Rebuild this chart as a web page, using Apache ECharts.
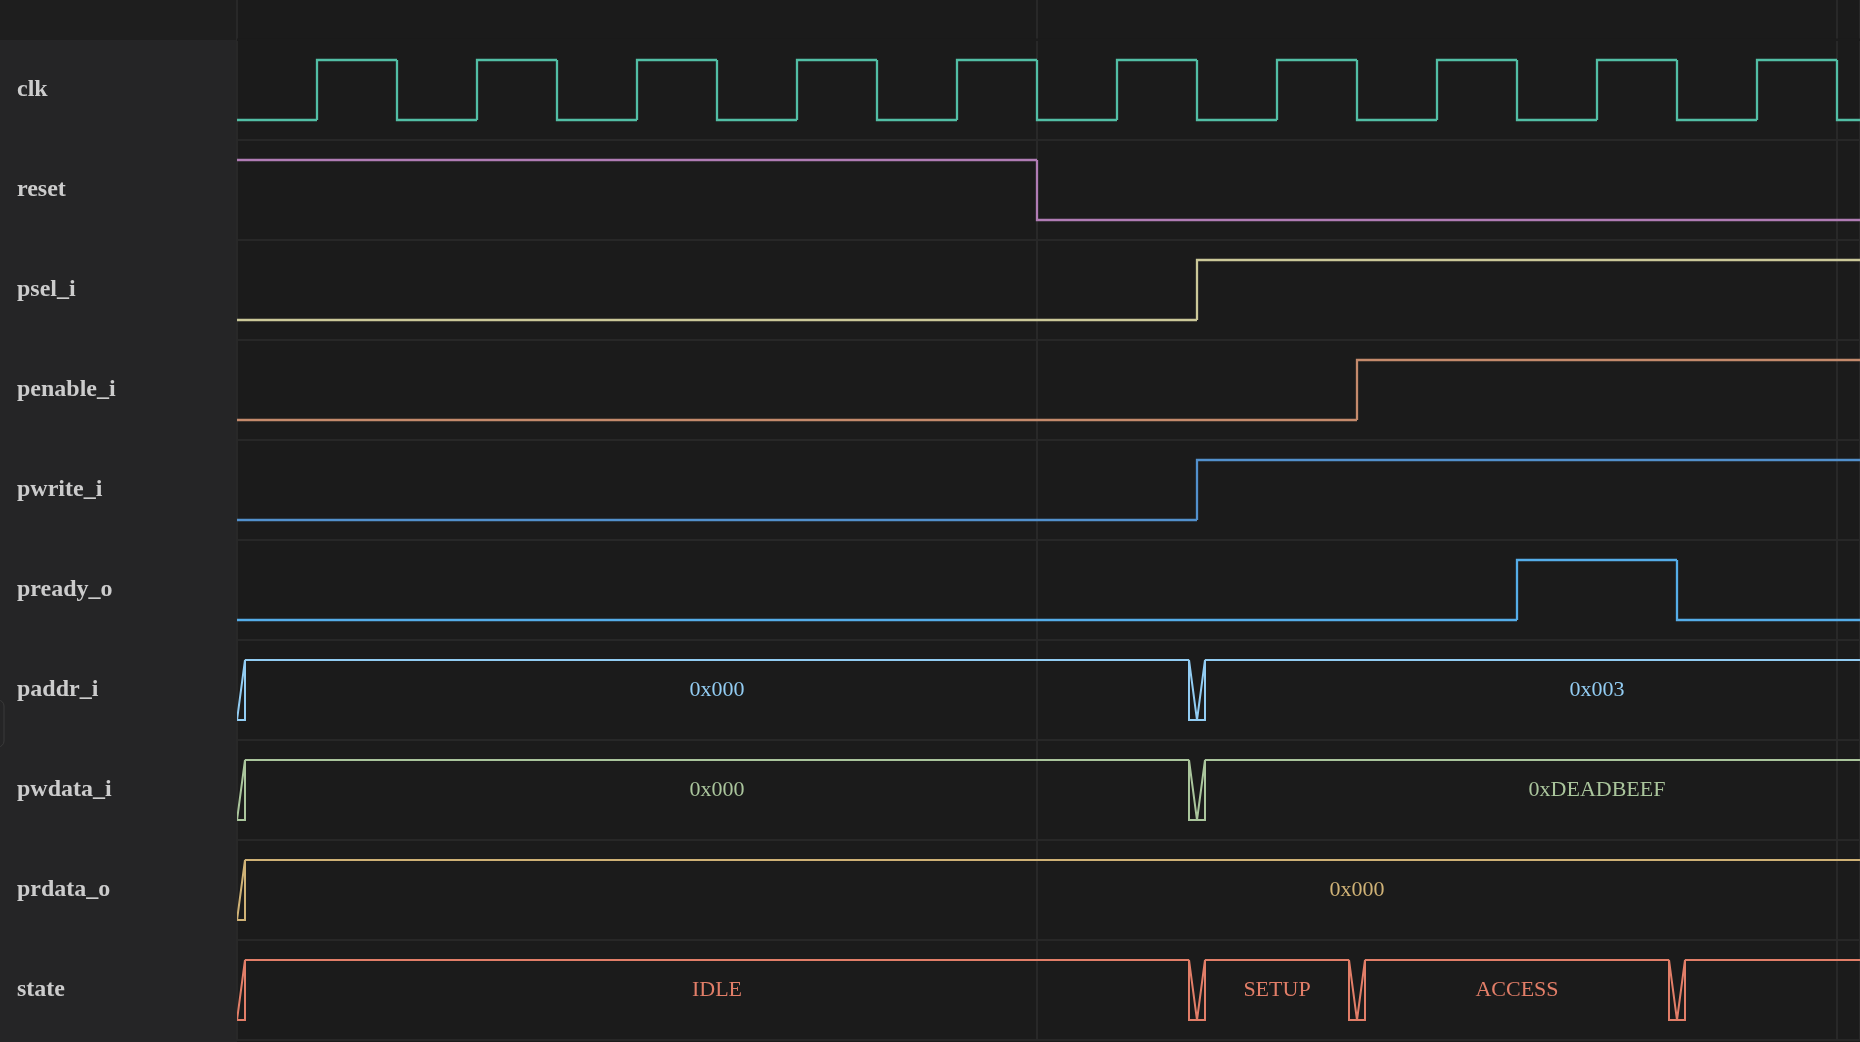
<!DOCTYPE html>
<html>
<head>
<meta charset="utf-8">
<script src="https://cdn.jsdelivr.net/npm/echarts/dist/echarts.min.js"></script>
<style>
html,body{margin:0;padding:0;background:#1b1b1b;overflow:hidden}
#chart{width:1860px;height:1042px}
</style>
</head>
<body>
<div id="chart"></div>
<script>
// ---- data ----
const signalNames = ['clk', 'reset', 'psel_i', 'penable_i', 'pwrite_i', 'pready_o', 'paddr_i', 'pwdata_i', 'prdata_o', 'state'];
const signalColors = ['#52bea5', '#b07cb4', '#cbc899', '#c48a6c', '#5290cc', '#55ade8', '#92ccf2', '#aac59c', '#cfb276', '#e27e68'];

// digital signals: [time, level] change points
const clkWave = [[0,0],[5,1],[10,0],[15,1],[20,0],[25,1],[30,0],[35,1],[40,0],[45,1],[50,0],[55,1],[60,0],[65,1],[70,0],[75,1],[80,0],[85,1],[90,0],[95,1],[100,0],[105,1],[110,0]];
const resetWave = [[0,1],[50,0]];
const pselWave = [[0,0],[60,1]];
const penableWave = [[0,0],[70,1]];
const pwriteWave = [[0,0],[60,1]];
const preadyWave = [[0,0],[80,1],[90,0]];
const digitalEnd = 140;

// bus signals: [start, end, value]
const paddrSegs = [[0,60,'0x000'],[60,110,'0x003']];
const pwdataSegs = [[0,60,'0x000'],[60,110,'0xDEADBEEF']];
const prdataSegs = [[0,140,'0x000']];
const stateSegs = [[0,60,'IDLE'],[60,70,'SETUP'],[70,90,'ACCESS'],[90,130,'IDLE']];

// visible time window
const timeMin = 0;
const timeMax = 101.4375;
const gridInterval = 50;

// ---- build ----
const digitalWaves = [clkWave, resetWave, pselWave, penableWave, pwriteWave, preadyWave];
const busSegs = [paddrSegs, pwdataSegs, prdataSegs, stateSegs];
const EDGE = 0.5;
const SWING = 0.3;
const LW = 2.3;
const FONT = '"Liberation Serif", "Times New Roman", Times, serif';

function digitalData(wave, row) {
  return wave.map((p, i) => {
    const next = i + 1 < wave.length ? wave[i + 1][0] : digitalEnd;
    const prev = i > 0 ? wave[i - 1][1] : p[1];
    return [p[0], next, p[1], prev, row];
  });
}

function renderDigital(params, api) {
  const s = api.value(0), e = api.value(1), lv = api.value(2), pv = api.value(3), row = api.value(4);
  const c0 = api.coord([s, row]);
  const c1 = api.coord([e, row]);
  const band = api.size([0, 1])[1];
  const yOf = v => c0[1] + (v ? -SWING : SWING) * band;
  const pts = [];
  if (pv !== lv) pts.push([c0[0], yOf(pv)]);
  pts.push([c0[0], yOf(lv)], [c1[0], yOf(lv)]);
  return {
    type: 'polyline',
    shape: { points: pts },
    style: { stroke: api.visual('color'), lineWidth: LW, fill: 'none', lineJoin: 'miter' }
  };
}

function makeBusRenderer(segs) {
  return function (params, api) {
    const s = api.value(0), e = api.value(1), row = api.value(2);
    const label = segs[params.dataIndex][2];
    const band = api.size([0, 1])[1];
    const cs = api.coord([s, row]);
    const cy = cs[1];
    const yH = cy - SWING * band, yL = cy + SWING * band;
    const xs = cs[0];
    const xsd = api.coord([s + EDGE, row])[0];
    const xed = api.coord([e - EDGE, row])[0];
    const xe = api.coord([e, row])[0];
    const color = api.visual('color');
    const ls = { stroke: color, lineWidth: LW - 0.3, fill: 'none' };
    return {
      type: 'group',
      children: [
        { type: 'polygon', shape: { points: [[xs, yL], [xsd, yH], [xsd, yL]] }, style: ls },
        { type: 'polyline', shape: { points: [[xsd, yH], [xed, yH]] }, style: ls },
        { type: 'polygon', shape: { points: [[xed, yH], [xe, yL], [xed, yL]] }, style: ls },
        {
          type: 'text',
          style: {
            text: label, x: (xs + xe) / 2, y: cy,
            fill: color, font: '22px ' + FONT,
            align: 'center', verticalAlign: 'middle',
            textAlign: 'center', textVerticalAlign: 'middle'
          }
        }
      ]
    };
  };
}

const series = [];
digitalWaves.forEach((w, i) => {
  series.push({
    type: 'custom',
    name: signalNames[i],
    color: signalColors[i],
    renderItem: renderDigital,
    clip: true,
    encode: { x: [0, 1], y: 4 },
    data: digitalData(w, i)
  });
});
busSegs.forEach((segs, j) => {
  const row = digitalWaves.length + j;
  series.push({
    type: 'custom',
    name: signalNames[row],
    color: signalColors[row],
    renderItem: makeBusRenderer(segs),
    clip: true,
    encode: { x: [0, 1], y: 2 },
    data: segs.map(sg => [sg[0], sg[1], row])
  });
});

const timeAxisBase = {
  type: 'value', min: timeMin, max: timeMax, interval: gridInterval,
  axisLine: { show: false }, axisTick: { show: false }, axisLabel: { show: false },
  splitLine: { show: true, lineStyle: { color: '#282828', width: 2 } }
};

const chart = echarts.init(document.getElementById('chart'), null, { renderer: 'canvas' });
chart.setOption({
  backgroundColor: '#252526',
  animation: false,
  graphic: [
    { type: 'rect', z: -10, shape: { x: 0, y: 0, width: 237, height: 40 }, style: { fill: '#1e1e1e' } },
    { type: 'rect', z: 100, shape: { x: 237, y: 38.5, width: 1623, height: 2.5 }, style: { fill: '#1b1b1b' } },
    { type: 'rect', z: -10, shape: { x: 237, y: 1040, width: 1623, height: 2 }, style: { fill: '#1b1b1b' } },
    { type: 'rect', z: 10, shape: { x: -40, y: 700, width: 44, height: 47, r: 6 }, style: { fill: 'none', stroke: '#3a3a3a', lineWidth: 1 } }
  ],
  grid: [
    {
      left: 237, right: 0, top: 40, bottom: 2,
      show: true, backgroundColor: '#1b1b1b', borderWidth: 0,
      containLabel: false, outerBoundsMode: 'none'
    },
    {
      left: 237, right: 0, top: 0, height: 40,
      show: true, backgroundColor: '#1b1b1b', borderWidth: 0,
      containLabel: false, outerBoundsMode: 'none'
    }
  ],
  xAxis: [
    Object.assign({ gridIndex: 0 }, timeAxisBase),
    Object.assign({ gridIndex: 1 }, timeAxisBase)
  ],
  yAxis: [
    {
      gridIndex: 0,
      type: 'category', data: signalNames, inverse: true,
      axisLine: { show: false }, axisTick: { show: false },
      axisLabel: {
        show: true, interval: 0, align: 'left', margin: 220,
        color: '#cccccc', fontFamily: FONT, fontSize: 24, fontWeight: 'bold'
      },
      splitLine: { show: true, interval: 0, lineStyle: { color: '#272727', width: 2 } }
    },
    {
      gridIndex: 1, type: 'value', min: 0, max: 1,
      axisLine: { show: false }, axisTick: { show: false }, axisLabel: { show: false },
      splitLine: { show: false }
    }
  ],
  tooltip: { show: false },
  series: series
});
</script>
</body>
</html>
